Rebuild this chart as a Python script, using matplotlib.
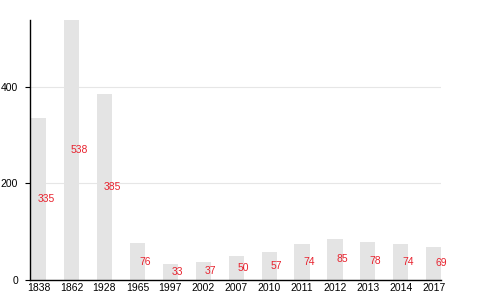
import matplotlib
matplotlib.use('Agg')
import matplotlib.pyplot as plt

years = ['1838', '1862', '1928', '1965', '1997', '2002', '2007', '2010',
         '2011', '2012', '2013', '2014', '2017']
values = [335, 538, 385, 76, 33, 37, 50, 57, 74, 85, 78, 74, 69]

plt.rcParams['font.family'] = ['Liberation Sans', 'DejaVu Sans']

fig = plt.figure(figsize=(4.8, 3), dpi=100)
ax = fig.add_axes([0.0625, 0.0667, 0.857, 0.8667])

x = range(len(years))
w = 0.46
ax.bar(x, values, width=w, color='#e4e4e4', zorder=2)
for i, v in enumerate(values):
    ax.text(i + w / 2, v / 2, str(v), color='#e8222e', fontsize=7.5,
            ha='center', va='center', zorder=3)

ax.set_xlim(-0.26, len(years) - 1 + w / 2)
ax.set_ylim(0, max(values))
ax.set_xticks(list(x))
ax.set_xticklabels(years)
ax.set_yticks([0, 200, 400])
ax.tick_params(axis='x', length=0, labelsize=7.5, pad=2)
ax.tick_params(axis='y', length=3.6, width=0.8, labelsize=7.5, pad=5)
ax.yaxis.grid(True, color='#e6e6e6', linewidth=0.8, zorder=0)
for s in ['top', 'right']:
    ax.spines[s].set_visible(False)
ax.spines['left'].set_linewidth(1)
ax.spines['bottom'].set_linewidth(1)

fig.savefig('out.png')
